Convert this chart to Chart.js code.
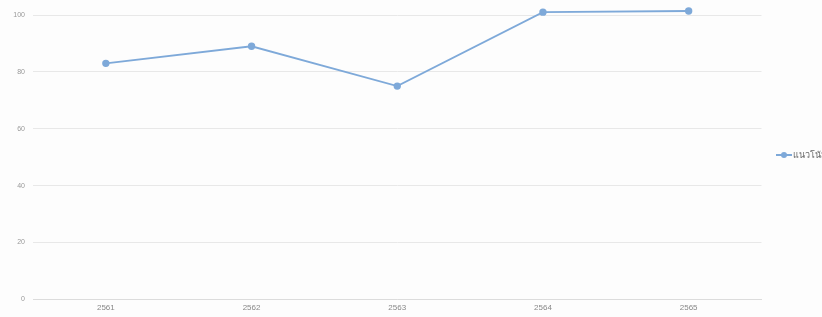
<!DOCTYPE html>
<html>
<head>
<meta charset="utf-8">
<script src="https://cdn.jsdelivr.net/npm/chart.js@4/dist/chart.umd.min.js"></script>
<style>
html,body{margin:0;padding:0;background:#fdfdfd;overflow:hidden;width:822px;height:317px;}
#wrap{position:relative;width:837px;height:317px;}
</style>
</head>
<body>
<div id="wrap"><canvas id="c"></canvas></div>
<script>
const categories = ["2561", "2562", "2563", "2564", "2565"];
const seriesName = "แนวโน้ม";
const seriesValues = [83, 89, 75, 101, 101.4];
const yTicks = [0, 20, 40, 60, 80, 100];

const color = "#7ea9d9";

// legend symbol: line with a dot in the middle
const sym = document.createElement("canvas");
sym.width = 16; sym.height = 8;
(function(){
  const g = sym.getContext("2d");
  g.strokeStyle = color; g.lineWidth = 2;
  g.beginPath(); g.moveTo(0, 4); g.lineTo(16, 4); g.stroke();
  g.fillStyle = color;
  g.beginPath(); g.arc(8, 4, 3, 0, Math.PI * 2); g.fill();
})();

const legendShift = {
  id: "legendShift",
  afterLayout(chart) {
    if (chart.legend) { chart.legend.top -= 11; chart.legend.bottom -= 11; }
  }
};

new Chart(document.getElementById("c"), {
  type: "line",
  data: {
    labels: categories,
    datasets: [{
      label: seriesName,
      data: seriesValues,
      borderColor: color,
      backgroundColor: color,
      borderWidth: 1.8,
      pointRadius: 2.8,
      pointHoverRadius: 2.8,
      pointStyle: "circle",
      tension: 0,
      clip: false
    }]
  },
  plugins: [legendShift],
  options: {
    responsive: true,
    maintainAspectRatio: false,
    animation: false,
    layout: { padding: { top: 15, bottom: 0, left: 0, right: 0 } },
    plugins: {
      tooltip: { enabled: false },
      legend: {
        position: "right",
        align: "center",
        labels: {
          usePointStyle: true,
          pointStyle: sym,
          color: "#666",
          font: { family: "Noto Sans", size: 9 },
          padding: 18
        }
      }
    },
    scales: {
      x: {
        offset: true,
        grid: { display: false, drawTicks: false },
        border: { display: true, color: "#dcdcdc" },
        ticks: { color: "#888", font: { family: "Liberation Sans", size: 8 }, padding: 4, maxRotation: 0 }
      },
      y: {
        min: 0,
        max: 100,
        afterBuildTicks: (s) => { s.ticks = yTicks.map(v => ({ value: v })); },
        afterFit: (s) => { s.width = 33; },
        grid: { color: "#e8e8e8", drawTicks: false },
        border: { display: false },
        ticks: { color: "#999", font: { family: "Liberation Sans", size: 7 }, padding: 8 }
      }
    }
  }
});
</script>
</body>
</html>
